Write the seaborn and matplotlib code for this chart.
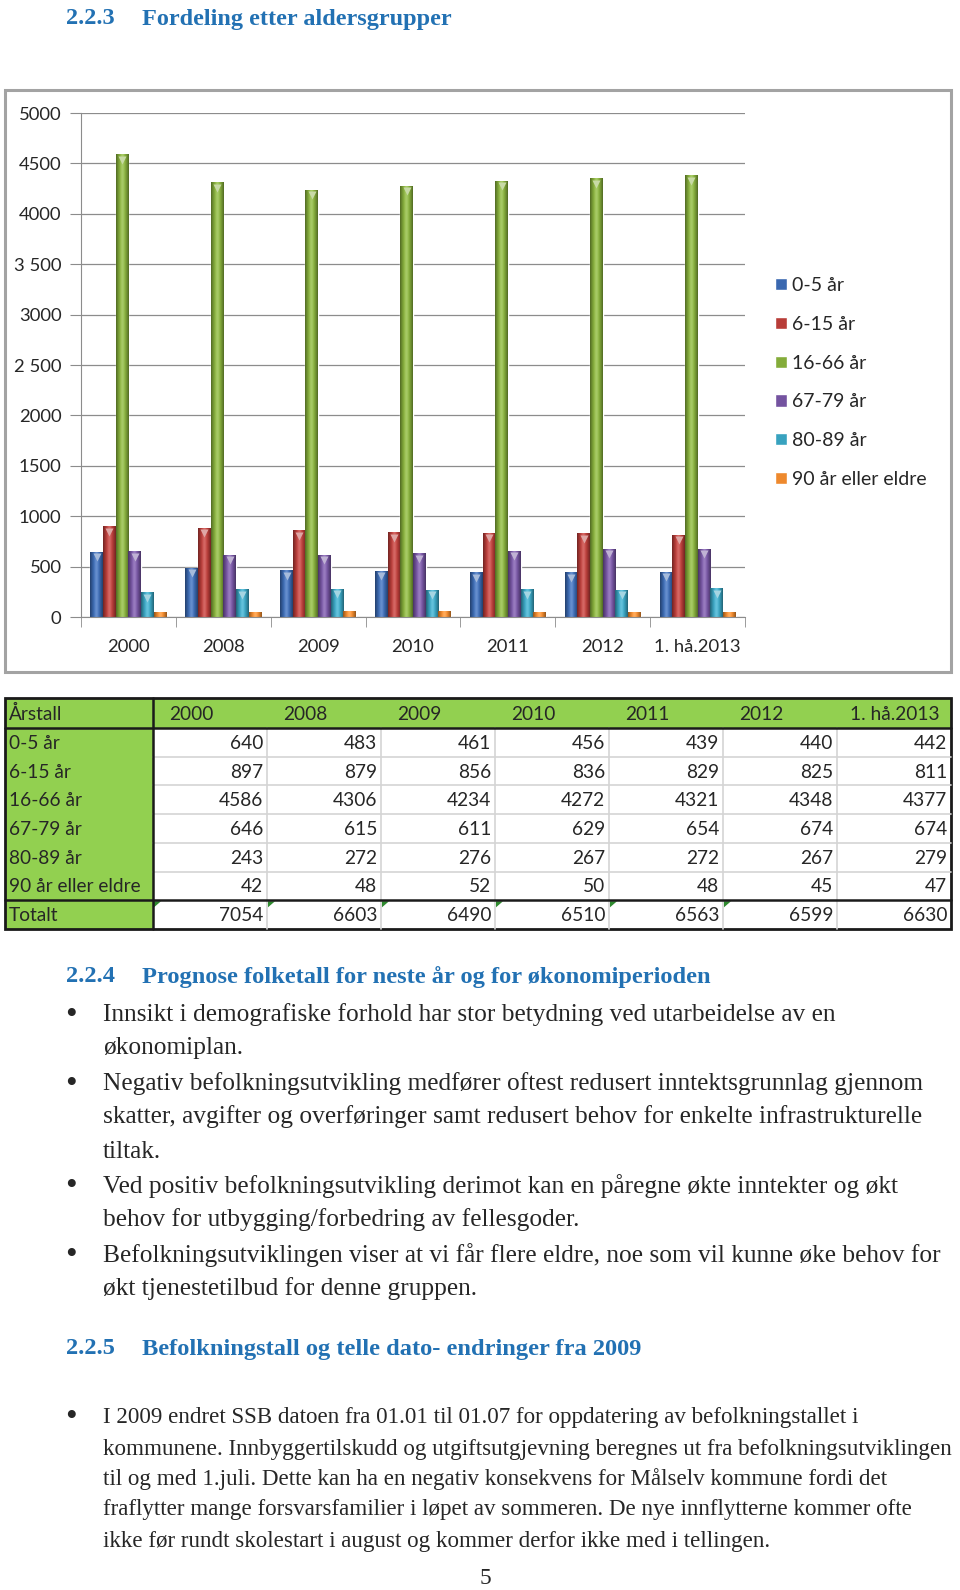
import numpy as np
import pandas as pd
import matplotlib
matplotlib.use("Agg")
import matplotlib.pyplot as plt
import matplotlib.colors as mcolors
import matplotlib.transforms as mtransforms
from matplotlib.patches import Rectangle, Polygon
import seaborn as sns

years = ["2000", "2008", "2009", "2010", "2011", "2012", "1. hå.2013"]
groups = ["0-5 år", "6-15 år", "16-66 år", "67-79 år", "80-89 år", "90 år eller eldre"]
age_0_5 = [640, 483, 461, 456, 439, 440, 442]
age_6_15 = [897, 879, 856, 836, 829, 825, 811]
age_16_66 = [4586, 4306, 4234, 4272, 4321, 4348, 4377]
age_67_79 = [646, 615, 611, 629, 654, 674, 674]
age_80_89 = [243, 272, 276, 267, 272, 267, 279]
age_90_plus = [42, 48, 52, 50, 48, 45, 47]
totals = [7054, 6603, 6490, 6510, 6563, 6599, 6630]
y_ticks = [0, 500, 1000, 1500, 2000, 2500, 3000, 3500, 4000, 4500, 5000]
y_tick_labels = ["0", "500", "1000", "1500", "2000", "2 500", "3000", "3 500", "4000", "4500", "5000"]
colors = ["#3A68B0", "#B83C38", "#84AC3A", "#7453A0", "#38A2BF", "#EE892D"]

series = [age_0_5, age_6_15, age_16_66, age_67_79, age_80_89, age_90_plus]
rows = []
for g, vals in zip(groups, series):
    for y, v in zip(years, vals):
        rows.append({"År": y, "Gruppe": g, "Antall": v})
df = pd.DataFrame(rows)

sns.set_style("white")
plt.rcParams["font.family"] = ["Lato", "DejaVu Sans"]

W, H = 960, 1590
fig = plt.figure(figsize=(W / 100, H / 100), dpi=100)


def fx(x):
    return x / W


def fy(y):
    return 1 - y / H


# page axes in pixel coordinates (text, table, frame)
page = fig.add_axes([0, 0, 1, 1])
page.set_xlim(0, W)
page.set_ylim(H, 0)
page.axis("off")

# chart frame
page.add_patch(Rectangle((5, 90), 946, 582, fill=False, edgecolor="#A3A3A3", lw=2.2))

# ---- bar chart ----
ax = fig.add_axes([fx(81), fy(617), (745 - 81) / W, (617 - 113) / H])
sns.barplot(data=df, x="År", y="Antall", hue="Gruppe", palette=colors, saturation=1,
            width=0.8, ax=ax, order=years, hue_order=groups)
ax.set_xlim(-0.5, len(years) - 0.5)
ax.set_ylim(0, 5000)
xl, yl = ax.get_xlim(), ax.get_ylim()

t = np.linspace(0, 1, 40)
s = np.sin(np.pi * t)
tri_tr = mtransforms.offset_copy(ax.transData, fig=fig, y=-5, units="dots")
for patch in ax.patches:
    h = patch.get_height()
    if not np.isfinite(h) or h <= 0:
        continue
    x0, w = patch.get_x(), patch.get_width()
    base = np.array(mcolors.to_rgb(patch.get_facecolor()))
    rgb = base[None, :] * (0.62 + 0.48 * s[:, None])
    rgb = rgb + (1 - rgb) * (0.2 * s[:, None] ** 8)
    rgb = np.clip(rgb, 0, 1)
    ax.imshow(rgb[None, :, :], extent=(x0, x0 + w, 0, h), aspect="auto",
              interpolation="bilinear", zorder=patch.get_zorder() + 0.1)
    if h > 150:
        light = base + (1 - base) * 0.55
        ax.plot([x0 + w / 2], [h], marker="v", ms=5.5, color=light, mec="none",
                transform=tri_tr, zorder=patch.get_zorder() + 0.2)
ax.set_xlim(xl)
ax.set_ylim(yl)

ax.set_yticks(y_ticks)
ax.set_yticklabels(y_tick_labels)
ax.grid(axis="y", color="#8C8C8C", lw=0.9)
ax.set_axisbelow(True)
for side in ["top", "right"]:
    ax.spines[side].set_visible(False)
for side in ["left", "bottom"]:
    ax.spines[side].set_color("#8C8C8C")
ax.tick_params(axis="y", length=8, color="#8C8C8C", labelsize=13.3, pad=6, left=True)
ax.tick_params(axis="x", which="major", length=0, pad=16, labelsize=13.3)
ax.set_xticks(np.arange(-0.5, len(years), 1), minor=True)
ax.tick_params(axis="x", which="minor", length=7, color="#8C8C8C", bottom=True)
ax.set_xlabel("")
ax.set_ylabel("")

handles, labels = ax.get_legend_handles_labels()
ax.legend(handles, labels, loc="upper left", bbox_to_anchor=(fx(775), fy(277)),
          bbox_transform=fig.transFigure, frameon=False, handlelength=0.6,
          handleheight=0.6, handletextpad=0.3, labelspacing=1.12, fontsize=14,
          borderaxespad=0, borderpad=0)

# ---- table ----
green = "#92D050"
grid_gray = "#D4D4D4"
tab_left, tab_right = 5, 951
tab_top, head_bot = 698, 728
label_right = 153
col_w = (tab_right - label_right) / len(years)
row_h = (929 - head_bot) / 7
col_edges = [label_right + i * col_w for i in range(len(years) + 1)]
row_edges = [head_bot + i * row_h for i in range(8)]
tab_bot = row_edges[-1]

page.add_patch(Rectangle((tab_left, tab_top), tab_right - tab_left, head_bot - tab_top,
                         facecolor=green, edgecolor="none"))
page.add_patch(Rectangle((tab_left, head_bot), label_right - tab_left, tab_bot - head_bot,
                         facecolor=green, edgecolor="none"))
for xe in col_edges[1:-1]:
    page.plot([xe, xe], [head_bot, tab_bot], color=grid_gray, lw=1.2)
for ye in row_edges[1:-2]:
    page.plot([label_right, tab_right], [ye, ye], color=grid_gray, lw=1.2)
page.add_patch(Rectangle((tab_left, tab_top), tab_right - tab_left, tab_bot - tab_top,
                         fill=False, edgecolor="#1A1A1A", lw=2))
page.plot([tab_left, tab_right], [head_bot, head_bot], color="#1A1A1A", lw=1.8)
page.plot([tab_left, tab_right], [row_edges[-2], row_edges[-2]], color="#1A1A1A", lw=1.8)
page.plot([label_right, label_right], [tab_top, tab_bot], color="#1A1A1A", lw=1.8)

tfs = 13.8
page.text(9, (tab_top + head_bot) / 2 + 1, "Årstall", fontsize=tfs, va="center", ha="left")
for i, yr in enumerate(years):
    cy = (tab_top + head_bot) / 2 + 1
    if i < len(years) - 1:
        page.text(col_edges[i] + 16, cy, yr, fontsize=tfs, va="center", ha="left")
    else:
        page.text(col_edges[i + 1] - 11, cy, yr, fontsize=tfs, va="center", ha="right")

table_rows = list(zip(groups, series)) + [("Totalt", totals)]
for r, (lab, vals) in enumerate(table_rows):
    cy = (row_edges[r] + row_edges[r + 1]) / 2 + 1
    page.text(9, cy, lab, fontsize=tfs, va="center", ha="left")
    for i, v in enumerate(vals):
        page.text(col_edges[i + 1] - 4, cy, str(v), fontsize=tfs, va="center", ha="right")

# small green marks in the Totalt row
for i in range(len(years) - 1):
    x0 = col_edges[i] + 1
    y0 = row_edges[-2] + 1
    page.add_patch(Polygon([[x0, y0], [x0 + 7, y0], [x0, y0 + 6]], closed=True,
                           facecolor="#2F8A2F", edgecolor="none"))

# ---- page text ----
head_col = "#2271B3"
serif = ["Liberation Serif", "DejaVu Serif"]

page.text(66, 19, "2.2.3", fontsize=17.5, fontweight="bold", color=head_col,
          family=serif, va="center")
page.text(142, 19, "Fordeling etter aldersgrupper", fontsize=17.5, fontweight="bold",
          color=head_col, family=serif, va="center")

page.text(66, 977, "2.2.4", fontsize=17.6, fontweight="bold", color=head_col,
          family=serif, va="center")
page.text(142, 977, "Prognose folketall for neste år og for økonomiperioden", fontsize=17.6,
          fontweight="bold", color=head_col, family=serif, va="center")

section_a = [
    (1015, True, "Innsikt i demografiske forhold har stor betydning ved utarbeidelse av en"),
    (1048, False, "økonomiplan."),
    (1084, True, "Negativ befolkningsutvikling medfører oftest redusert inntektsgrunnlag gjennom"),
    (1117, False, "skatter, avgifter og overføringer samt redusert behov for enkelte infrastrukturelle"),
    (1152, False, "tiltak."),
    (1186, True, "Ved positiv befolkningsutvikling derimot kan en påregne økte inntekter og økt"),
    (1220, False, "behov for utbygging/forbedring av fellesgoder."),
    (1255, True, "Befolkningsutviklingen viser at vi får flere eldre, noe som vil kunne øke behov for"),
    (1289, False, "økt tjenestetilbud for denne gruppen."),
]
section_b = [
    (1417, True, "I 2009 endret SSB datoen fra 01.01 til 01.07 for oppdatering av befolkningstallet i"),
    (1449, False, "kommunene. Innbyggertilskudd og utgiftsutgjevning beregnes ut fra befolkningsutviklingen"),
    (1479, False, "til og med 1.juli. Dette kan ha en negativ konsekvens for Målselv kommune fordi det"),
    (1509, False, "fraflytter mange forsvarsfamilier i løpet av sommeren. De nye innflytterne kommer ofte"),
    (1541, False, "ikke før rundt skolestart i august og kommer derfor ikke med i tellingen."),
]
for lines, fs in [(section_a, 18.3), (section_b, 16.55)]:
    for y, bullet, line in lines:
        if bullet:
            page.text(71, y + 1, "•", fontsize=24, family=serif, va="center", ha="center")
        page.text(103, y, line, fontsize=fs, family=serif, va="center", ha="left")

page.text(66, 1349, "2.2.5", fontsize=17.6, fontweight="bold", color=head_col,
          family=serif, va="center")
page.text(142, 1349, "Befolkningstall og telle dato- endringer fra 2009", fontsize=17.6,
          fontweight="bold", color=head_col, family=serif, va="center")

page.text(485, 1579, "5", fontsize=16.8, family=serif, va="center", ha="center")

fig.savefig("out.png", dpi=100)
